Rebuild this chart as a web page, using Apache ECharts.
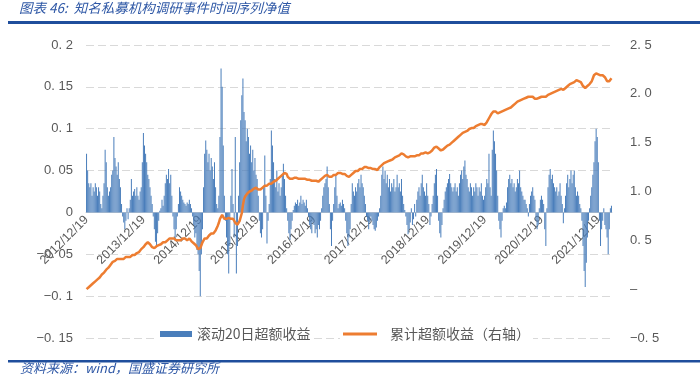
<!DOCTYPE html>
<html>
<head>
<meta charset="utf-8">
<script src="https://cdn.jsdelivr.net/npm/echarts@6/dist/echarts.min.js"></script>
<style>
  html, body { margin: 0; padding: 0; background: #fff; }
  #main { width: 700px; height: 378px; }
</style>
</head>
<body>
<div id="main"></div>
<script>
// year start labels shown on the x axis (one block of weekly values per year)
var yearTicks = ['2012/12/19', '2013/12/19', '2014/12/19', '2015/12/19', '2016/12/19',
                 '2017/12/19', '2018/12/19', '2019/12/19', '2020/12/19', '2021/12/19'];

// 滚动20日超额收益, weekly readings per year block
var roll1 = [0.07,0.05,0.035,0.03,0.035,0.02,0.03,0.025,0.035,0.03,0.02,0.03,0.025,0.01,0.005,0.02,0.035,0.075,0.06,0.03,0.02,0.025,0.03,0.045,0.05,0.09,0.065,0.055,0.045,0.06,0.04,0.03,0.01,-0.005,-0.012,-0.02,-0.01,0.005,-0.008,0.005,0.015,0.04,0.02,0.025,0.028,0.02,0.03,0.02,0.015,0.025,0.03,0.06];
var roll2 = [0.095,0.08,0.07,0.06,0.045,0.04,0.03,0.02,0.01,-0.005,-0.02,-0.035,-0.04,-0.025,-0.01,0.002,0.005,0.015,0.008,0.02,0.035,0.045,0.04,0.052,0.035,0.045,0.02,-0.005,-0.02,-0.034,-0.02,-0.005,0.01,0.03,0.025,0.02,0.015,0.012,0.01,0.008,0.012,0.01,0.015,0.01,0.005,-0.005,-0.015,-0.03,-0.025,-0.045,-0.05,-0.07];
var roll3 = [-0.1,-0.05,-0.02,0.03,0.07,0.086,0.075,0.06,0.07,0.05,0.065,0.055,0.04,0.06,0.03,0.01,0.005,0.02,0.09,0.172,0.15,0.08,0.02,-0.01,-0.03,-0.05,-0.073,-0.04,0.02,0.052,0.01,-0.03,0.09,-0.073,-0.04,0.02,0.06,0.11,0.14,0.16,0.12,0.11,0.085,0.1,0.09,0.07,0.08,0.06,0.075,0.05,0.065,0.045];
var roll4 = [0.04,0.02,-0.01,-0.025,-0.03,-0.02,0.03,0.068,0.02,-0.037,-0.01,0.01,0.04,0.098,0.08,0.06,0.04,0.03,0.05,0.025,0.035,0.02,0.03,0.045,0.058,0.04,0.02,0.005,-0.01,-0.025,-0.033,-0.02,-0.01,0.003,0.008,0.012,0.01,0.015,0.008,0.012,0.02,0.01,0.015,0.012,0.008,0.015,0.005,-0.005,-0.015,-0.02,-0.025,-0.012];
var roll5 = [-0.015,-0.025,-0.02,-0.03,-0.015,-0.02,-0.01,0.005,0.02,0.03,0.035,0.04,0.055,0.03,0.01,-0.02,-0.04,-0.01,0.01,0.03,0.045,0.02,0.005,0.01,0.012,0.008,0.015,0.01,0.005,-0.01,-0.025,-0.04,-0.03,-0.02,0.01,0.035,0.025,0.02,0.03,0.025,0.035,0.04,0.03,0.045,0.035,0.03,0.02,0.01,-0.005,-0.01,-0.02,-0.012];
var roll6 = [-0.005,-0.01,-0.015,-0.02,-0.022,-0.018,-0.01,-0.005,0.005,0.02,0.045,0.055,0.04,0.05,0.035,0.045,0.03,0.04,0.025,0.035,0.03,0.04,0.025,0.03,0.045,0.03,0.035,0.025,0.04,0.02,0.01,0.003,-0.005,-0.015,-0.026,-0.02,-0.012,0.005,-0.015,-0.008,0.01,-0.005,0.015,0.025,0.03,0.02,0.035,0.045,0.03,0.025,0.02,0.035];
var roll7 = [0.02,0.01,-0.015,-0.005,0.01,0.02,0.035,0.045,0.052,0.02,-0.01,-0.025,-0.03,-0.015,0.005,0.015,0.025,0.03,0.035,0.04,0.046,0.035,0.03,0.025,0.03,0.035,0.025,0.03,0.02,0.035,0.045,0.05,0.04,0.055,0.062,0.045,0.04,0.03,0.025,0.035,0.03,0.02,0.03,0.025,0.035,0.03,0.02,0.03,0.025,0.035,0.02,0.015];
var roll8 = [0.02,0.03,0.04,0.035,0.07,0.03,0.02,0.075,0.098,0.085,0.07,0.05,0.02,-0.01,-0.02,-0.03,-0.01,0.005,0.008,0.005,0.012,0.03,0.04,0.045,0.035,0.04,0.03,0.035,0.025,0.03,0.04,0.035,0.05,0.03,0.025,0.02,0.015,0.015,0.01,0.005,-0.005,0.01,0.02,0.025,0.03,0.02,0.015,-0.01,-0.02,-0.015,0.005,0.015];
var roll9 = [0.02,0.015,0.01,-0.02,-0.04,0.005,0.03,0.045,0.052,0.04,0.045,0.035,0.03,0.025,0.03,0.02,0.025,0.035,0.02,0.01,-0.013,0.005,0.02,0.035,0.045,0.03,0.04,0.05,0.035,0.045,0.05,0.03,0.02,0.025,0.02,0.01,0.005,-0.01,-0.04,-0.07,-0.089,-0.06,-0.03,-0.01,0.005,0.02,0.03,0.045,0.06,0.085,0.1,0.09];
var roll10 = [0.06,-0.01,-0.04,-0.02,-0.01,0.005,-0.015,-0.02,-0.03,-0.05,-0.02,0.005,0.008];

// 累计超额收益（右轴）, same weeks
var cum1 = [0.00,0.01,0.02,0.03,0.04,0.05,0.06,0.06,0.08,0.09,0.10,0.12,0.12,0.13,0.15,0.16,0.17,0.19,0.20,0.21,0.22,0.24,0.25,0.27,0.28,0.29,0.29,0.30,0.31,0.30,0.31,0.30,0.31,0.32,0.31,0.32,0.33,0.32,0.33,0.34,0.33,0.34,0.35,0.34,0.35,0.36,0.37,0.37,0.38,0.40,0.41,0.42];
var cum2 = [0.43,0.45,0.46,0.47,0.48,0.48,0.46,0.44,0.43,0.42,0.42,0.43,0.44,0.44,0.45,0.46,0.46,0.47,0.48,0.49,0.48,0.49,0.50,0.51,0.52,0.53,0.52,0.51,0.52,0.51,0.50,0.49,0.50,0.51,0.50,0.51,0.52,0.51,0.52,0.51,0.50,0.51,0.52,0.50,0.49,0.48,0.47,0.46,0.45,0.43,0.41,0.40];
var cum3 = [0.42,0.45,0.48,0.50,0.52,0.53,0.52,0.54,0.55,0.56,0.57,0.58,0.57,0.58,0.60,0.62,0.65,0.68,0.72,0.74,0.76,0.74,0.72,0.71,0.72,0.70,0.73,0.74,0.72,0.74,0.72,0.70,0.68,0.67,0.66,0.68,0.70,0.72,0.78,0.86,0.92,0.95,0.97,0.98,0.99,1.00,1.00,1.01,1.02,1.03,1.03,1.04];
var cum4 = [1.03,1.02,1.01,1.02,1.03,1.04,1.05,1.06,1.05,1.06,1.07,1.08,1.07,1.08,1.09,1.10,1.10,1.11,1.12,1.13,1.14,1.15,1.16,1.17,1.18,1.19,1.20,1.18,1.15,1.14,1.13,1.14,1.13,1.14,1.14,1.13,1.14,1.13,1.13,1.14,1.13,1.12,1.13,1.12,1.13,1.12,1.12,1.11,1.12,1.11,1.11,1.10];
var cum5 = [1.11,1.10,1.11,1.10,1.10,1.11,1.12,1.13,1.14,1.15,1.16,1.17,1.17,1.16,1.15,1.16,1.15,1.16,1.17,1.16,1.17,1.18,1.19,1.18,1.19,1.18,1.18,1.17,1.18,1.17,1.16,1.15,1.15,1.16,1.17,1.18,1.19,1.20,1.21,1.20,1.21,1.22,1.23,1.24,1.23,1.24,1.25,1.24,1.25,1.25,1.24,1.24];
var cum6 = [1.24,1.23,1.23,1.22,1.23,1.22,1.22,1.23,1.25,1.26,1.27,1.28,1.29,1.29,1.30,1.30,1.31,1.31,1.32,1.33,1.33,1.34,1.35,1.36,1.36,1.37,1.37,1.38,1.39,1.39,1.38,1.37,1.36,1.35,1.35,1.36,1.36,1.35,1.36,1.37,1.36,1.37,1.37,1.38,1.37,1.38,1.39,1.38,1.39,1.39,1.40,1.40];
var cum7 = [1.39,1.40,1.40,1.41,1.42,1.44,1.45,1.46,1.46,1.45,1.44,1.43,1.42,1.42,1.43,1.44,1.45,1.46,1.47,1.48,1.48,1.49,1.50,1.51,1.52,1.53,1.54,1.55,1.56,1.57,1.58,1.59,1.60,1.61,1.61,1.62,1.62,1.63,1.64,1.65,1.65,1.66,1.65,1.66,1.67,1.67,1.68,1.68,1.69,1.68,1.69,1.70];
var cum8 = [1.68,1.69,1.71,1.73,1.75,1.77,1.79,1.81,1.82,1.83,1.82,1.81,1.80,1.80,1.81,1.81,1.82,1.82,1.83,1.83,1.84,1.84,1.85,1.85,1.86,1.87,1.88,1.89,1.90,1.91,1.92,1.92,1.93,1.93,1.94,1.94,1.95,1.95,1.96,1.97,1.97,1.96,1.97,1.96,1.97,1.96,1.95,1.96,1.95,1.96,1.96,1.97];
var cum9 = [1.97,1.96,1.97,1.98,1.97,1.98,1.99,1.99,2.00,2.00,2.01,2.01,2.02,2.02,2.03,2.03,2.04,2.04,2.05,2.05,2.04,2.05,2.06,2.07,2.08,2.09,2.10,2.10,2.11,2.12,2.12,2.13,2.14,2.14,2.13,2.14,2.12,2.10,2.08,2.06,2.06,2.07,2.08,2.09,2.10,2.11,2.13,2.16,2.19,2.21,2.21,2.20];
var cum10 = [2.20,2.19,2.19,2.18,2.19,2.18,2.17,2.15,2.13,2.12,2.13,2.15,2.16];

var rollBlocks = [roll1, roll2, roll3, roll4, roll5, roll6, roll7, roll8, roll9, roll10];
var cumBlocks = [cum1, cum2, cum3, cum4, cum5, cum6, cum7, cum8, cum9, cum10];

var categories = [], rollData = [], cumData = [];
yearTicks.forEach(function (tick, k) {
    rollBlocks[k].forEach(function (v, w) {
        categories.push(w === 0 ? tick : tick + '+' + w);
        rollData.push(v);
        cumData.push(cumBlocks[k][w]);
    });
});

function fmtNum(v, digits) {
    if (Math.abs(v) < 1e-9) return null;
    var s = Math.abs(v).toFixed(digits).replace('.', '. ');
    return (v < 0 ? '\u2212' : '') + s;
}

var txt = '#595959';
var blue = '#1F4E9C';
// plot spans y 45..338; the zero line of the left axis sits 126px above the bottom
var zeroLift = -126;

var chart = echarts.init(document.getElementById('main'), null, { renderer: 'canvas' });
var option = {
    animation: false,
    backgroundColor: '#fff',
    textStyle: { fontFamily: '"Liberation Sans", "Noto Sans CJK SC", sans-serif' },
    grid: { left: 86, right: 88, top: 45, bottom: 40, containLabel: false, outerBoundsMode: 'none' },
    legend: [{
        data: [{ name: '滚动20日超额收益', icon: 'rect' }],
        left: 157, top: 324, padding: [3, 3],
        itemWidth: 32, itemHeight: 6,
        backgroundColor: '#fff',
        textStyle: { color: txt, fontSize: 14, fontFamily: '"Noto Sans CJK SC", sans-serif' }
    }, {
        data: [{ name: '累计超额收益（右轴）', icon: 'rect' }],
        left: 340, top: 324, padding: [3, 3],
        itemWidth: 34, itemHeight: 3,
        backgroundColor: '#fff',
        textStyle: { color: txt, fontSize: 14, padding: [0, 0, 0, 8], fontFamily: '"Noto Sans CJK SC", sans-serif' }
    }],
    xAxis: {
        type: 'category',
        data: categories,
        offset: zeroLift,
        axisLine: { onZero: false, lineStyle: { color: '#D9D9D9', width: 1 } },
        axisTick: { show: false },
        splitLine: { show: false },
        axisLabel: {
            interval: function (i) { return i % 52 === 0; },
            rotate: 45,
            margin: 6,
            color: txt,
            fontSize: 12.5,
            formatter: function (v) { return v.split('+')[0]; }
        },
        z: 1
    },
    yAxis: [{
        type: 'value',
        min: -0.15, max: 0.2, interval: 0.05,
        axisLine: { show: false },
        axisTick: { show: false },
        splitLine: { lineStyle: { color: '#D9D9D9', type: [8, 4], width: 1.2 } },
        axisLabel: {
            color: txt, fontSize: 13, margin: 13,
            formatter: function (v) { var s = fmtNum(v, Math.abs(v * 100) % 10 < 1e-6 ? 1 : 2); return s === null ? '0' : s; }
        }
    }, {
        type: 'value',
        min: -0.5, max: 2.5, interval: 0.5,
        position: 'right',
        axisLine: { show: false },
        axisTick: { show: false },
        splitLine: { show: false },
        axisLabel: {
            color: txt, fontSize: 13, margin: 18,
            formatter: function (v) { var s = fmtNum(v, 1); return s === null ? '\u2013' : s; }
        }
    }],
    series: [{
        name: '滚动20日超额收益',
        type: 'bar',
        yAxisIndex: 0,
        data: rollData,
        barCategoryGap: '35%',
        itemStyle: { color: '#4A7EBB' },
        z: 2
    }, {
        name: '累计超额收益（右轴）',
        type: 'line',
        yAxisIndex: 1,
        data: cumData,
        symbol: 'none',
        showSymbol: false,
        lineStyle: { color: '#ED7D31', width: 2.5 },
        itemStyle: { color: '#ED7D31' },
        z: 3
    }],
    graphic: [
        { type: 'text', left: 19, top: 1, style: { text: '图表 46:  知名私募机构调研事件时间序列净值', fill: '#2F58A6', font: 'italic 13.5px "Noto Sans CJK SC", sans-serif' } },
        { type: 'rect', shape: { x: 8, y: 21, width: 692, height: 3 }, style: { fill: blue } },
        { type: 'rect', shape: { x: 8, y: 360, width: 692, height: 2.5 }, style: { fill: blue } },
        { type: 'text', left: 20, top: 362, style: { text: '资料来源：wind，国盛证券研究所', fill: '#2F58A6', font: 'italic 13px "Noto Sans CJK SC", sans-serif' } }
    ]
};
chart.setOption(option);
</script>
</body>
</html>
